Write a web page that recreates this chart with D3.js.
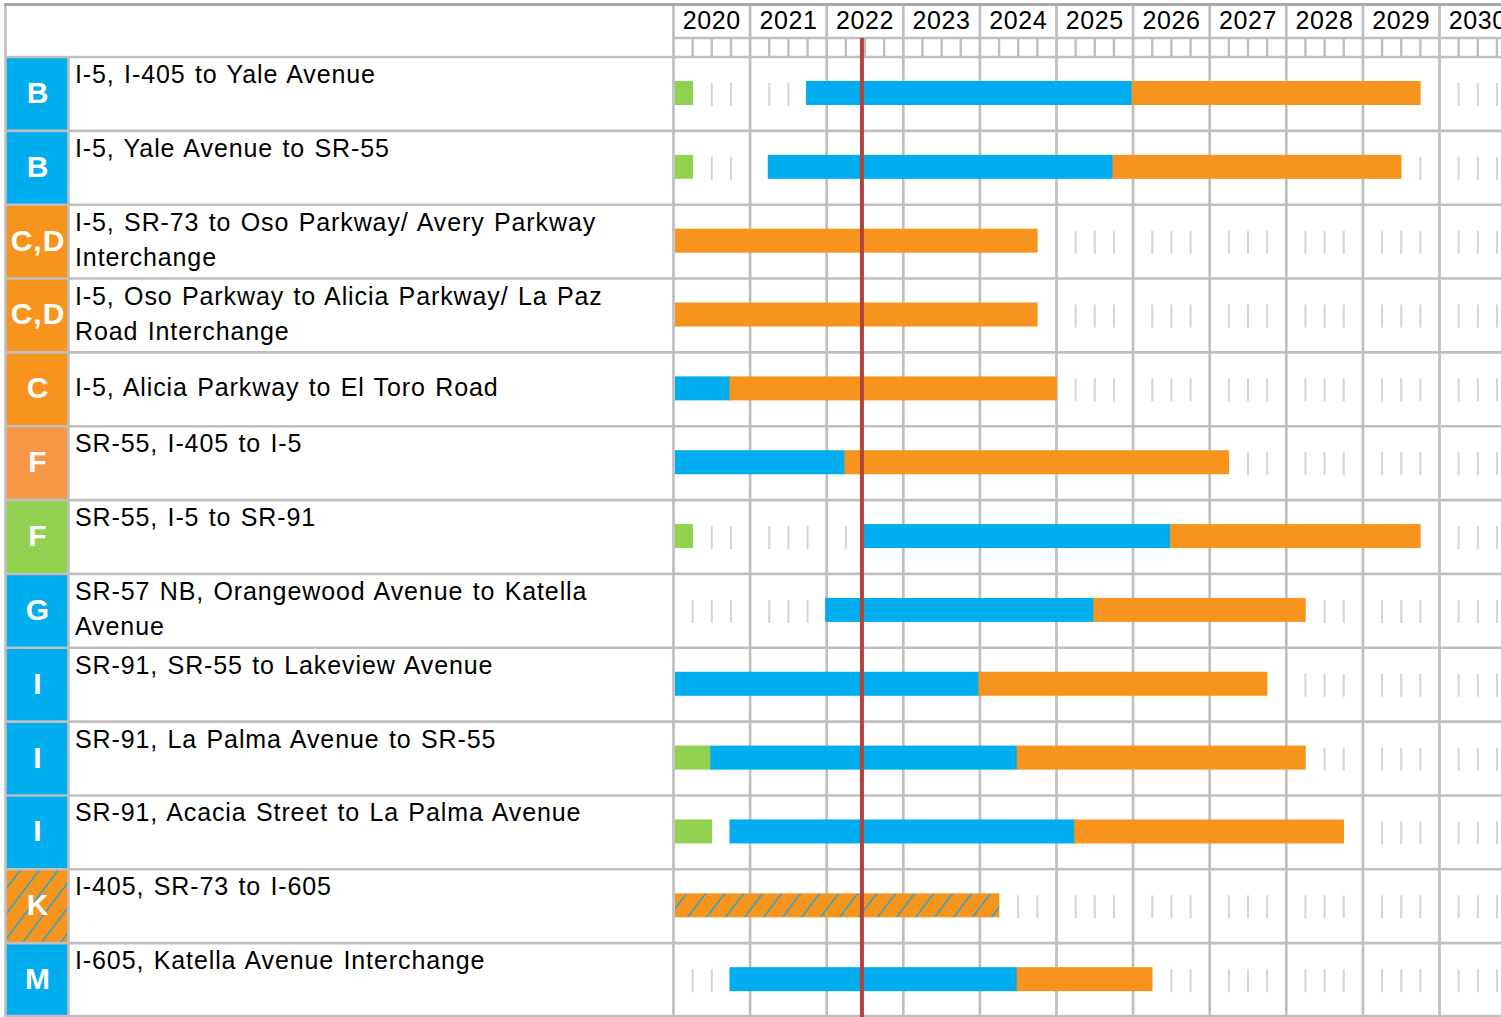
<!DOCTYPE html>
<html>
<head>
<meta charset="utf-8">
<script src="https://cdn.jsdelivr.net/npm/d3@7"></script>
<style>
  html, body { margin: 0; padding: 0; background: #fff; }
  svg { display: block; }
  text { font-family: "Liberation Sans", Arial, sans-serif; }
</style>
</head>
<body>
<svg id="chart" width="1501" height="1017"></svg>
<script>
// ---------------- DATA ----------------
const years = [2020, 2021, 2022, 2023, 2024, 2025, 2026, 2027, 2028, 2029, 2030];
const badges = ["B", "B", "C,D", "C,D", "C", "F", "F", "G", "I", "I", "I", "K", "M"];
const badgeTypes = ["blue", "blue", "orange", "orange", "orange", "lightorange", "green", "blue", "blue", "blue", "blue", "hatch", "blue"];
const labels = [
  ["I-5, I-405 to Yale Avenue"],
  ["I-5, Yale Avenue to SR-55"],
  ["I-5, SR-73 to Oso Parkway/ Avery Parkway", "Interchange"],
  ["I-5, Oso Parkway to Alicia Parkway/ La Paz", "Road Interchange"],
  ["I-5, Alicia Parkway to El Toro Road"],
  ["SR-55, I-405 to I-5"],
  ["SR-55, I-5 to SR-91"],
  ["SR-57 NB, Orangewood Avenue to Katella", "Avenue"],
  ["SR-91, SR-55 to Lakeview Avenue"],
  ["SR-91, La Palma Avenue to SR-55"],
  ["SR-91, Acacia Street to La Palma Avenue"],
  ["I-405, SR-73 to I-605"],
  ["I-605, Katella Avenue Interchange"]
];
// phase spans [start, end] in decimal years (quarters)
const greenPhase = [[2020, 2020.25], [2020, 2020.25], null, null, null, null, [2020, 2020.25], null, null, [2020, 2020.5], [2020, 2020.5], null, null];
const bluePhase = [[2021.75, 2026], [2021.25, 2025.75], null, null, [2020, 2020.75], [2020, 2022.25], [2022.5, 2026.5], [2022, 2025.5], [2020, 2024], [2020.5, 2024.5], [2020.75, 2025.25], null, [2020.75, 2024.5]];
const orangePhase = [[2026, 2029.75], [2025.75, 2029.5], [2020, 2024.75], [2020, 2024.75], [2020.75, 2025], [2022.25, 2027.25], [2026.5, 2029.75], [2025.5, 2028.25], [2024, 2027.75], [2024.5, 2028.25], [2025.25, 2028.75], null, [2024.5, 2026.25]];
const hatchPhase = [null, null, null, null, null, null, null, null, null, null, null, [2020, 2024.25], null];
const today = 2022.46;

// ---------------- STYLE / LAYOUT ----------------
const W = 1501, H = 1017;
const colors = { blue: "#00adef", orange: "#f7941e", lightorange: "#f79646", green: "#92d050" };
const grid = "#bfbfbf";
const tickColor = "#d4d4d4";
const centeredLabelRows = [4];

const svg = d3.select("#chart");
const defs = svg.append("defs");
const pat = defs.append("pattern")
  .attr("id", "hatch").attr("patternUnits", "userSpaceOnUse")
  .attr("width", 19).attr("height", 40)
  .attr("patternTransform", "translate(675,0) skewX(-37)");
pat.append("rect").attr("width", 19).attr("height", 40).attr("fill", colors.orange);
pat.append("rect").attr("x", 0).attr("y", 0).attr("width", 1.6).attr("height", 40).attr("fill", colors.blue);

const x = d3.scaleLinear().domain([2020, 2031]).range([673.5, 673.5 + 11 * 76.6]);
const y = d3.scaleBand().domain(d3.range(labels.length)).range([57, 1017]).padding(0);
const barH = 24, barOff = 24;

const colorFor = t => t === "hatch" ? "url(#hatch)" : colors[t];

// badges
svg.append("g").selectAll("rect").data(badges).join("rect")
  .attr("x", 6).attr("y", (d, i) => y(i)).attr("width", 62).attr("height", y.bandwidth())
  .attr("fill", (d, i) => colorFor(badgeTypes[i]));

const quarters = d3.range(2020, 2031.001, 0.25);
const gh = svg.append("g");
// quarter lines in header
gh.selectAll("line.q").data(quarters.filter(q => q % 1 !== 0)).join("line")
  .attr("x1", d => x(d)).attr("x2", d => x(d)).attr("y1", 38).attr("y2", 57)
  .attr("stroke", grid).attr("stroke-width", 2.4);
gh.append("line").attr("x1", 673.5).attr("x2", W).attr("y1", 38).attr("y2", 38)
  .attr("stroke", grid).attr("stroke-width", 2.4);

// year vertical lines full height
gh.selectAll("line.y").data(d3.range(2020, 2032)).join("line")
  .attr("x1", d => x(d)).attr("x2", d => x(d)).attr("y1", 5).attr("y2", H)
  .attr("stroke", grid).attr("stroke-width", 2.7);

// year labels
gh.selectAll("text.year").data(years).join("text")
  .attr("x", d => x(d + 0.5)).attr("y", 29).attr("text-anchor", "middle")
  .attr("font-size", 25).attr("letter-spacing", 0.6).attr("fill", "#000")
  .text(d => d);

// horizontal row lines
const rowEdges = d3.range(labels.length + 1).map(i => i < labels.length ? y(i) : 1016);
gh.selectAll("line.h").data(rowEdges).join("line")
  .attr("x1", 5).attr("x2", W).attr("y1", d => d).attr("y2", d => d)
  .attr("stroke", grid).attr("stroke-width", 2.6);

// left column lines
gh.append("line").attr("x1", 68.5).attr("x2", 68.5).attr("y1", 57).attr("y2", H).attr("stroke", grid).attr("stroke-width", 2.6);
gh.append("line").attr("x1", 5.5).attr("x2", 5.5).attr("y1", 4).attr("y2", H).attr("stroke", grid).attr("stroke-width", 2.6);
gh.append("line").attr("x1", 4).attr("x2", W).attr("y1", 4.5).attr("y2", 4.5).attr("stroke", "#a8a8a8").attr("stroke-width", 3);

// empty-quarter ticks
const phases = [greenPhase, bluePhase, orangePhase, hatchPhase];
function occupied(i, q) {
  return phases.some(p => p[i] && p[i][0] <= q + 1e-6 && p[i][1] >= q + 0.25 - 1e-6);
}
const ticks = [];
labels.forEach((l, i) => {
  quarters.forEach(q => {
    if (q % 1 === 0 || q >= 2031) return;
    if (!occupied(i, q - 0.25) && !occupied(i, q)) ticks.push({ i, q });
  });
});
svg.append("g").selectAll("rect").data(ticks).join("rect")
  .attr("x", d => x(d.q) - 1).attr("y", d => y(d.i) + barOff + 2)
  .attr("width", 2).attr("height", barH - 1).attr("fill", tickColor);

// bars
const bars = [];
[["green", greenPhase], ["blue", bluePhase], ["orange", orangePhase], ["hatch", hatchPhase]].forEach(([t, arr]) => {
  arr.forEach((s, i) => { if (s) bars.push({ t, i, s: s[0], e: s[1] }); });
});
const bx0 = d => d.s === 2020 ? x(d.s) + 1.5 : x(d.s) - 1.5;
svg.append("g").selectAll("rect").data(bars).join("rect")
  .attr("x", bx0)
  .attr("y", d => y(d.i) + barOff)
  .attr("width", d => x(d.e) + 0.3 - bx0(d))
  .attr("height", barH)
  .attr("fill", d => colorFor(d.t));

// badge letters
svg.append("g").selectAll("text").data(badges).join("text")
  .attr("x", 38).attr("y", (d, i) => y(i) + y.bandwidth() / 2 + 9)
  .attr("text-anchor", "middle").attr("font-size", 30).attr("font-weight", "bold")
  .attr("letter-spacing", 1).attr("fill", "#fff").text(d => d);

// labels
const lg = svg.append("g");
labels.forEach((lines, i) => {
  const base = centeredLabelRows.includes(i) ? y(i) + 44 : y(i) + 26;
  lines.forEach((ln, k) => {
    lg.append("text").attr("x", 75).attr("y", base + k * 35)
      .attr("font-size", 25).attr("letter-spacing", 0.9).attr("word-spacing", 1.5)
      .attr("fill", "#000").text(ln);
  });
});

// today line
svg.append("line").attr("x1", x(today)).attr("x2", x(today)).attr("y1", 38).attr("y2", H)
  .attr("stroke", "#b0433b").attr("stroke-width", 4);
</script>
</body>
</html>
